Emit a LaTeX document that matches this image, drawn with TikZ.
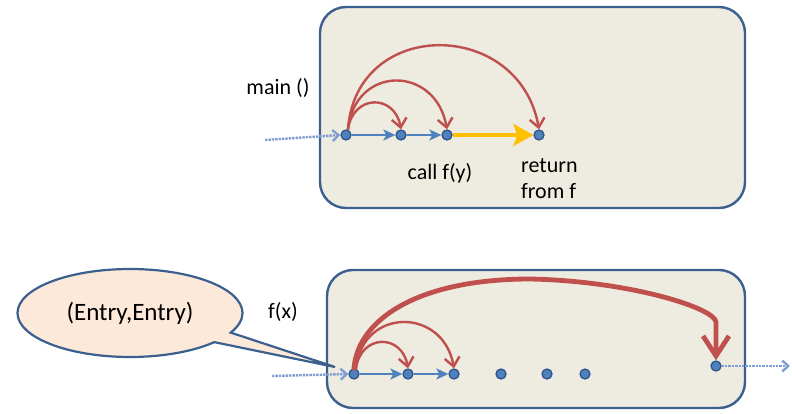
\documentclass[tikz,border=0pt]{standalone}
\usepackage{fontspec}
\setmainfont{Carlito}
\usetikzlibrary{arrows.meta, shapes.geometric, shapes.callouts}

\definecolor{framefill}{HTML}{EEEBE1}
\definecolor{framedraw}{HTML}{3B5F8E}
\definecolor{arcred}{HTML}{C0504D}
\definecolor{stepblue}{HTML}{4F81BD}
\definecolor{dotedge}{HTML}{2F5489}
\definecolor{retyellow}{HTML}{FFC000}
\definecolor{bubble}{HTML}{FDE9D9}
\definecolor{flowblue}{HTML}{7F9FD3}

\tikzset{
  frame/.style={draw=framedraw, fill=framefill, line width=2.4pt, rounded corners=26pt},
  pt/.style={circle, fill=stepblue, draw=dotedge, line width=1.3pt, inner sep=0pt, minimum size=10pt},
  stepline/.style={stepblue, line width=2.5pt, -{Stealth[length=12pt,width=11pt,inset=3pt]}},
  retline/.style={retyellow, line width=4.5pt, -{Stealth[length=20pt,width=22pt,inset=4pt]}},
  jump/.style={arcred, line width=2.4pt, -{Straight Barb[length=9pt,width=15pt]}},
  bigjump/.style={arcred, line width=4.8pt, line cap=round, -{Straight Barb[length=20pt,width=26pt]}},
  flow/.style={flowblue, line width=2.4pt, densely dotted, -{Straight Barb[length=6pt,width=11pt]}},
  lbl/.style={font=\fontsize{22}{26}\selectfont, inner sep=0pt},
}

\begin{document}
\begin{tikzpicture}[x=1pt, y=-1pt]
  \useasboundingbox (0,0) rectangle (792,414);
  % the two frames
  \draw[frame] (320,7) rectangle (745,208);
  \draw[frame] (327,270) rectangle (745,408);

  % main ()
  \node[lbl] (mainlbl) at (278,88) {main ()};
  \foreach \n/\x in {1/346, 2/401, 3/447, 4/539}
    \node[pt] (m\n) at (\x,135) {};
  \node[lbl] (calllbl) at (440,173) {call f(y)};
  \node[lbl, anchor=west, align=left] (retlbl) at (521,179) {return\\from f};
  \coordinate (min) at (265,140);
  \draw[flow] (min) -- (m1.west);
  \draw[stepline] (m1) -- (m2);
  \draw[stepline] (m2) -- (m3);
  \draw[retline] (m3) -- (m4);
  \draw[jump] (m1.70) to[out=82, in=100, looseness=1.74] (m2.north);
  \draw[jump] (m1.70) to[out=84, in=100, looseness=1.69] (m3.north);
  \draw[jump] (m1.70) to[out=86, in=100, looseness=1.51] (m4.north);

  % f(x)
  \node[lbl] (flbl) at (283,312) {f(x)};
  \foreach \n/\x in {1/354, 2/408, 3/454, 4/501, 5/547, 6/585}
    \node[pt] (f\n) at (\x,374) {};
  \node[pt] (f7) at (716,366) {};
  \coordinate (fin) at (272,376);
  \coordinate (fout) at (790,366);
  \draw[flow] (fin) -- (f1.west);
  \draw[flow] (f7.east) -- (fout);
  \draw[stepline] (f1) -- (f2);
  \draw[stepline] (f2) -- (f3);
  \draw[jump] (f1.70) to[out=82, in=100, looseness=1.74] (f2.north);
  \draw[jump] (f1.70) to[out=84, in=100, looseness=1.62] (f3.north);
  \coordinate (bendtop) at (530,279);
  \coordinate (bendside) at ([yshift=38pt]f7.north);
  \draw[bigjump] (f1.north) .. controls +(4,-50) and +(-110,0) .. (bendtop)
    .. controls +(100,2) and +(0,-14) .. (bendside) -- (f7.north);

  % entry bubble
  \coordinate (tip) at (335,367);
  \node[ellipse callout, callout absolute pointer={(tip)}, draw=framedraw, fill=bubble,
        line width=2.2pt, minimum width=225pt, minimum height=88pt, inner sep=0pt,
        font=\fontsize{25}{30}\selectfont] (entry) at (130,313) {(Entry,Entry)};
\end{tikzpicture}
\end{document}
